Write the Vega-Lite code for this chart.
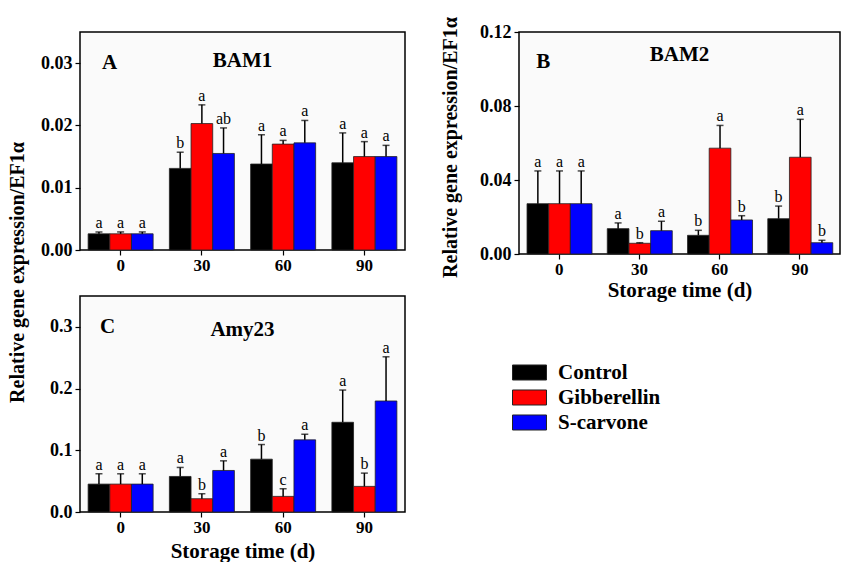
{
  "$schema": "https://vega.github.io/schema/vega-lite/v6.json",
  "background": "white",
  "padding": {"left": 6, "top": 15, "right": 0, "bottom": 0},
  "bounds": "flush",
  "columns": 2,
  "spacing": {"column": 114, "row": 42},
  "config": {
    "font": "Times New Roman, Liberation Serif, serif",
    "view": {"stroke": "black", "strokeWidth": 1.5, "fill": "#fafafa"},
    "axis": {"domain": false, "grid": false, "tickColor": "black", "tickSize": 5, "tickWidth": 1.2,
      "labelFont": "Times New Roman, Liberation Serif, serif", "labelFontWeight": "bold", "labelFontSize": 17, "labelColor": "black",
      "titleFont": "Times New Roman, Liberation Serif, serif", "titleFontWeight": "bold", "titleFontSize": 21, "titleColor": "black"},
    "axisX": {"labelAngle": 0, "labelPadding": 2},
    "axisY": {"labelFontSize": 18, "labelPadding": 3, "titleFontSize": 20},
    "title": {"font": "Times New Roman, Liberation Serif, serif", "fontWeight": "bold", "fontSize": 21, "color": "black", "anchor": "middle", "baseline": "middle", "offset": 0}
  },
  "datasets": {
    "bam1": [
      {"time": "0", "treatment": "Control", "mean": 0.0026, "upper": 0.0029, "label": "a"},
      {"time": "0", "treatment": "Gibberellin", "mean": 0.0026, "upper": 0.0029, "label": "a"},
      {"time": "0", "treatment": "S-carvone", "mean": 0.0026, "upper": 0.0029, "label": "a"},
      {"time": "30", "treatment": "Control", "mean": 0.0131, "upper": 0.0157, "label": "b"},
      {"time": "30", "treatment": "Gibberellin", "mean": 0.0203, "upper": 0.0233, "label": "a"},
      {"time": "30", "treatment": "S-carvone", "mean": 0.0155, "upper": 0.0196, "label": "ab"},
      {"time": "60", "treatment": "Control", "mean": 0.0138, "upper": 0.0185, "label": "a"},
      {"time": "60", "treatment": "Gibberellin", "mean": 0.0170, "upper": 0.0176, "label": "a"},
      {"time": "60", "treatment": "S-carvone", "mean": 0.0172, "upper": 0.0208, "label": "a"},
      {"time": "90", "treatment": "Control", "mean": 0.0140, "upper": 0.0188, "label": "a"},
      {"time": "90", "treatment": "Gibberellin", "mean": 0.0150, "upper": 0.0174, "label": "a"},
      {"time": "90", "treatment": "S-carvone", "mean": 0.0150, "upper": 0.0168, "label": "a"}
    ],
    "bam2": [
      {"time": "0", "treatment": "Control", "mean": 0.0272, "upper": 0.0449, "label": "a"},
      {"time": "0", "treatment": "Gibberellin", "mean": 0.0272, "upper": 0.0449, "label": "a"},
      {"time": "0", "treatment": "S-carvone", "mean": 0.0272, "upper": 0.0449, "label": "a"},
      {"time": "30", "treatment": "Control", "mean": 0.0137, "upper": 0.0168, "label": "a"},
      {"time": "30", "treatment": "Gibberellin", "mean": 0.0058, "upper": 0.0061, "label": "b"},
      {"time": "30", "treatment": "S-carvone", "mean": 0.0126, "upper": 0.0177, "label": "a"},
      {"time": "60", "treatment": "Control", "mean": 0.0101, "upper": 0.0128, "label": "b"},
      {"time": "60", "treatment": "Gibberellin", "mean": 0.0572, "upper": 0.0695, "label": "a"},
      {"time": "60", "treatment": "S-carvone", "mean": 0.0184, "upper": 0.0207, "label": "b"},
      {"time": "90", "treatment": "Control", "mean": 0.0191, "upper": 0.0259, "label": "b"},
      {"time": "90", "treatment": "Gibberellin", "mean": 0.0523, "upper": 0.0728, "label": "a"},
      {"time": "90", "treatment": "S-carvone", "mean": 0.0061, "upper": 0.0074, "label": "b"}
    ],
    "amy23": [
      {"time": "0", "treatment": "Control", "mean": 0.0452, "upper": 0.0619, "label": "a"},
      {"time": "0", "treatment": "Gibberellin", "mean": 0.0452, "upper": 0.0619, "label": "a"},
      {"time": "0", "treatment": "S-carvone", "mean": 0.0452, "upper": 0.0619, "label": "a"},
      {"time": "30", "treatment": "Control", "mean": 0.0576, "upper": 0.0722, "label": "a"},
      {"time": "30", "treatment": "Gibberellin", "mean": 0.0215, "upper": 0.0296, "label": "b"},
      {"time": "30", "treatment": "S-carvone", "mean": 0.0673, "upper": 0.0829, "label": "a"},
      {"time": "60", "treatment": "Control", "mean": 0.0856, "upper": 0.1093, "label": "b"},
      {"time": "60", "treatment": "Gibberellin", "mean": 0.0253, "upper": 0.0377, "label": "c"},
      {"time": "60", "treatment": "S-carvone", "mean": 0.1169, "upper": 0.1260, "label": "a"},
      {"time": "90", "treatment": "Control", "mean": 0.1454, "upper": 0.1976, "label": "a"},
      {"time": "90", "treatment": "Gibberellin", "mean": 0.0415, "upper": 0.0630, "label": "b"},
      {"time": "90", "treatment": "S-carvone", "mean": 0.1799, "upper": 0.2515, "label": "a"}
    ]
  },
  "resolve": {"scale": {"color": "independent"}, "legend": {"color": "independent"}},
  "concat": [
    {
      "width": 325, "height": 218,
      "title": {"text": "BAM1", "dy": 43},
      "data": {"name": "bam1"},
      "encoding": {
        "x": {"field": "time", "type": "nominal", "sort": ["0", "30", "60", "90"],
          "scale": {"paddingInner": 0.2, "paddingOuter": 0.1}, "axis": {"title": null}}
      },
      "layer": [
        {"mark": {"type": "bar", "stroke": "#222", "strokeWidth": 0.8},
          "encoding": {
            "xOffset": {"field": "treatment", "type": "nominal", "sort": ["Control", "Gibberellin", "S-carvone"], "scale": {"paddingInner": 0, "paddingOuter": 0}},
            "y": {"field": "mean", "type": "quantitative", "scale": {"domain": [0, 0.035], "nice": false},
              "axis": {"values": [0, 0.01, 0.02, 0.03], "format": ".2f", "title": "Relative gene expression/EF1α", "titleX": -57, "titleY": 240, "titleAngle": -90, "titleBaseline": "alphabetic", "titleAlign": "center"}},
            "color": {"field": "treatment", "type": "nominal", "sort": ["Control", "Gibberellin", "S-carvone"], "scale": {"domain": ["Control", "Gibberellin", "S-carvone"], "range": ["#000000", "#ff0000", "#0000ff"]}, "legend": null}
          }},
        {"mark": {"type": "rule", "color": "black", "strokeWidth": 1.5},
          "encoding": {
            "xOffset": {"field": "treatment", "type": "nominal", "sort": ["Control", "Gibberellin", "S-carvone"]},
            "y": {"field": "mean", "type": "quantitative"}, "y2": {"field": "upper"}}},
        {"mark": {"type": "tick", "color": "black", "thickness": 1.5, "size": 7},
          "encoding": {
            "xOffset": {"field": "treatment", "type": "nominal", "sort": ["Control", "Gibberellin", "S-carvone"]},
            "y": {"field": "upper", "type": "quantitative"}}},
        {"mark": {"type": "text", "baseline": "alphabetic", "dy": -4, "fontSize": 16, "color": "black"},
          "encoding": {
            "xOffset": {"field": "treatment", "type": "nominal", "sort": ["Control", "Gibberellin", "S-carvone"]},
            "y": {"field": "upper", "type": "quantitative"}, "text": {"field": "label"}}},
        {"data": {"values": [{"panel": "A"}]},
          "mark": {"type": "text", "fontSize": 21, "fontWeight": "bold", "dx": -11, "baseline": "middle", "color": "black"},
          "encoding": {"x": {"datum": "0"}, "y": {"datum": 0.03}, "text": {"field": "panel"}}}
      ]
    },
    {
      "width": 321, "height": 222,
      "title": {"text": "BAM2", "dy": 52},
      "data": {"name": "bam2"},
      "encoding": {
        "x": {"field": "time", "type": "nominal", "sort": ["0", "30", "60", "90"],
          "scale": {"paddingInner": 0.2, "paddingOuter": 0.1}, "axis": {"title": "Storage time (d)", "titlePadding": 2}}
      },
      "layer": [
        {"mark": {"type": "bar", "stroke": "#222", "strokeWidth": 0.8},
          "encoding": {
            "xOffset": {"field": "treatment", "type": "nominal", "sort": ["Control", "Gibberellin", "S-carvone"], "scale": {"paddingInner": 0, "paddingOuter": 0}},
            "y": {"field": "mean", "type": "quantitative", "scale": {"domain": [0, 0.12], "nice": false},
              "axis": {"values": [0, 0.04, 0.08, 0.12], "format": ".2f", "title": "Relative gene expression/EF1α", "titleX": -63, "titleY": 115, "titleAngle": -90, "titleBaseline": "alphabetic", "titleAlign": "center"}},
            "color": {"field": "treatment", "type": "nominal", "sort": ["Control", "Gibberellin", "S-carvone"], "scale": {"domain": ["Control", "Gibberellin", "S-carvone"], "range": ["#000000", "#ff0000", "#0000ff"]}, "legend": null}
          }},
        {"mark": {"type": "rule", "color": "black", "strokeWidth": 1.5},
          "encoding": {
            "xOffset": {"field": "treatment", "type": "nominal", "sort": ["Control", "Gibberellin", "S-carvone"]},
            "y": {"field": "mean", "type": "quantitative"}, "y2": {"field": "upper"}}},
        {"mark": {"type": "tick", "color": "black", "thickness": 1.5, "size": 7},
          "encoding": {
            "xOffset": {"field": "treatment", "type": "nominal", "sort": ["Control", "Gibberellin", "S-carvone"]},
            "y": {"field": "upper", "type": "quantitative"}}},
        {"mark": {"type": "text", "baseline": "alphabetic", "dy": -4, "fontSize": 16, "color": "black"},
          "encoding": {
            "xOffset": {"field": "treatment", "type": "nominal", "sort": ["Control", "Gibberellin", "S-carvone"]},
            "y": {"field": "upper", "type": "quantitative"}, "text": {"field": "label"}}},
        {"data": {"values": [{"panel": "B"}]},
          "mark": {"type": "text", "fontSize": 21, "fontWeight": "bold", "dx": -16, "baseline": "middle", "color": "black"},
          "encoding": {"x": {"datum": "0"}, "y": {"datum": 0.104}, "text": {"field": "panel"}}}
      ]
    },
    {
      "width": 325, "height": 216,
      "title": {"text": "Amy23", "dy": 48},
      "data": {"name": "amy23"},
      "encoding": {
        "x": {"field": "time", "type": "nominal", "sort": ["0", "30", "60", "90"],
          "scale": {"paddingInner": 0.2, "paddingOuter": 0.1}, "axis": {"title": "Storage time (d)", "titlePadding": 5}}
      },
      "layer": [
        {"mark": {"type": "bar", "stroke": "#222", "strokeWidth": 0.8},
          "encoding": {
            "xOffset": {"field": "treatment", "type": "nominal", "sort": ["Control", "Gibberellin", "S-carvone"], "scale": {"paddingInner": 0, "paddingOuter": 0}},
            "y": {"field": "mean", "type": "quantitative", "scale": {"domain": [0, 0.35], "nice": false},
              "axis": {"values": [0, 0.1, 0.2, 0.3], "format": ".1f", "title": null}},
            "color": {"field": "treatment", "type": "nominal", "sort": ["Control", "Gibberellin", "S-carvone"], "scale": {"domain": ["Control", "Gibberellin", "S-carvone"], "range": ["#000000", "#ff0000", "#0000ff"]},
              "legend": {"orient": "none", "legendX": 435, "legendY": 62, "title": null, "symbolType": "M-1.214,-0.536H1.214V0.536H-1.214Z", "symbolSize": 784, "symbolStrokeColor": "#222", "symbolStrokeWidth": 1, "symbolOpacity": 1, "labelFont": "Times New Roman, Liberation Serif, serif", "labelFontSize": 21, "labelFontWeight": "bold", "labelColor": "black", "rowPadding": 0, "labelOffset": 14}}
          }},
        {"mark": {"type": "rule", "color": "black", "strokeWidth": 1.5},
          "encoding": {
            "xOffset": {"field": "treatment", "type": "nominal", "sort": ["Control", "Gibberellin", "S-carvone"]},
            "y": {"field": "mean", "type": "quantitative"}, "y2": {"field": "upper"}}},
        {"mark": {"type": "tick", "color": "black", "thickness": 1.5, "size": 7},
          "encoding": {
            "xOffset": {"field": "treatment", "type": "nominal", "sort": ["Control", "Gibberellin", "S-carvone"]},
            "y": {"field": "upper", "type": "quantitative"}}},
        {"mark": {"type": "text", "baseline": "alphabetic", "dy": -4, "fontSize": 16, "color": "black"},
          "encoding": {
            "xOffset": {"field": "treatment", "type": "nominal", "sort": ["Control", "Gibberellin", "S-carvone"]},
            "y": {"field": "upper", "type": "quantitative"}, "text": {"field": "label"}}},
        {"data": {"values": [{"panel": "C"}]},
          "mark": {"type": "text", "fontSize": 21, "fontWeight": "bold", "dx": -13, "baseline": "middle", "color": "black"},
          "encoding": {"x": {"datum": "0"}, "y": {"datum": 0.3}, "text": {"field": "panel"}}}
      ]
    }
  ]
}
